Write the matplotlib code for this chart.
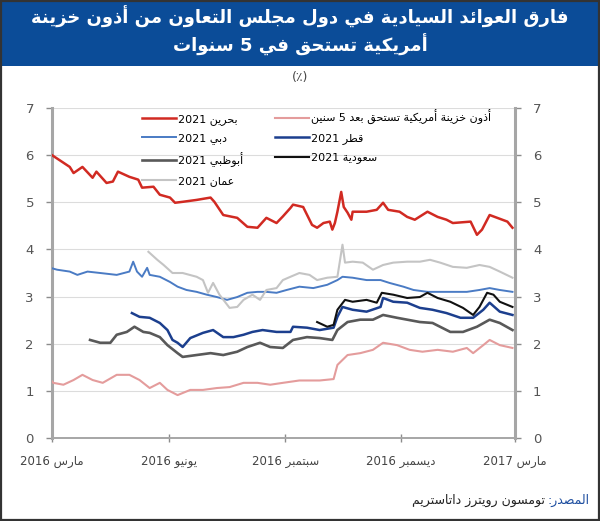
import re
import numpy as np
import pandas as pd
import matplotlib
matplotlib.use("Agg")
import matplotlib.pyplot as plt
from matplotlib.patches import Rectangle

START = pd.Timestamp("2016-03-01")

# day offsets from 1 March 2016 and yield values (%)
bahrain_days = [0, 14, 17, 24, 32, 35, 43, 48, 52, 61, 68, 71, 80, 85, 93, 97, 103, 114, 125, 128,
                135, 146, 154, 162, 169, 177, 182, 188, 190, 198, 205, 209, 214, 219, 221, 223, 225,
                228, 230, 233, 236, 237, 248, 256, 261, 265, 274, 280, 286, 296, 304, 311, 316, 330,
                335, 339, 345, 351, 359, 363]
bahrain_vals = [6.00, 5.75, 5.62, 5.75, 5.52, 5.65, 5.41, 5.44, 5.65, 5.54, 5.48, 5.31, 5.33, 5.16,
                5.10, 4.99, 5.01, 5.05, 5.10, 5.01, 4.73, 4.67, 4.48, 4.46, 4.67, 4.56, 4.70, 4.88,
                4.95, 4.90, 4.52, 4.46, 4.56, 4.59, 4.42, 4.56, 4.80, 5.22, 4.90, 4.78, 4.63, 4.80,
                4.80, 4.84, 4.99, 4.84, 4.80, 4.69, 4.63, 4.80, 4.69, 4.63, 4.56, 4.59, 4.31, 4.42,
                4.73, 4.67, 4.59, 4.46]

dubai_days = [0, 4, 14, 20, 28, 38, 51, 61, 64, 67, 71, 75, 77, 85, 93, 99, 106, 114, 122, 130, 138,
              146, 154, 162, 169, 177, 185, 195, 206, 217, 225, 229, 237, 248, 259, 266, 277, 285,
              296, 306, 316, 327, 337, 345, 353, 363]
dubai_vals = [3.60, 3.57, 3.53, 3.46, 3.53, 3.50, 3.46, 3.53, 3.74, 3.53, 3.42, 3.61, 3.46, 3.42,
              3.31, 3.21, 3.14, 3.10, 3.04, 2.99, 2.93, 2.99, 3.08, 3.10, 3.10, 3.08, 3.14, 3.21,
              3.18, 3.25, 3.35, 3.42, 3.40, 3.35, 3.35, 3.29, 3.21, 3.14, 3.10, 3.10, 3.10, 3.10,
              3.14, 3.18, 3.14, 3.10]

oman_days = [76, 83, 88, 95, 103, 114, 119, 123, 127, 132, 140, 146, 151, 158, 164, 169, 177, 182,
             188, 195, 203, 209, 217, 225, 229, 231, 237, 245, 253, 261, 269, 280, 290, 298, 306,
             316, 327, 337, 345, 353, 363]
oman_vals = [3.95, 3.78, 3.67, 3.50, 3.50, 3.42, 3.35, 3.08, 3.29, 3.04, 2.76, 2.78, 2.93, 3.04,
             2.93, 3.14, 3.18, 3.35, 3.42, 3.50, 3.46, 3.35, 3.40, 3.42, 4.10, 3.72, 3.74, 3.72,
             3.57, 3.67, 3.72, 3.74, 3.74, 3.78, 3.72, 3.63, 3.61, 3.67, 3.63, 3.53, 3.40]

qatar_days = [63, 69, 77, 85, 91, 95, 99, 103, 109, 119, 127, 135, 143, 151, 158, 166, 177, 188,
              190, 201, 211, 222, 225, 229, 237, 248, 259, 261, 269, 280, 290, 300, 311, 322, 332,
              340, 345, 353, 363]
qatar_vals = [2.65, 2.57, 2.55, 2.44, 2.29, 2.08, 2.02, 1.93, 2.12, 2.23, 2.29, 2.14, 2.14, 2.19,
              2.25, 2.29, 2.25, 2.25, 2.36, 2.34, 2.29, 2.34, 2.57, 2.78, 2.72, 2.68, 2.78, 2.97,
              2.89, 2.87, 2.76, 2.72, 2.65, 2.55, 2.55, 2.72, 2.87, 2.68, 2.61]

abudhabi_days = [30, 38, 46, 51, 59, 65, 72, 77, 85, 91, 99, 103, 114, 125, 135, 146, 154, 164, 172,
                 182, 190, 201, 211, 221, 225, 233, 243, 253, 261, 272, 280, 290, 300, 314, 324,
                 335, 345, 353, 363]
abudhabi_vals = [2.08, 2.02, 2.02, 2.19, 2.25, 2.36, 2.25, 2.23, 2.14, 1.97, 1.80, 1.72, 1.76, 1.80,
                 1.76, 1.83, 1.93, 2.02, 1.93, 1.91, 2.08, 2.14, 2.12, 2.08, 2.29, 2.46, 2.51, 2.51,
                 2.61, 2.55, 2.51, 2.46, 2.44, 2.25, 2.25, 2.36, 2.51, 2.44, 2.29]

saudi_days = [209, 217, 222, 225, 231, 237, 248, 256, 260, 269, 280, 290, 296, 304, 314, 324, 332,
              337, 343, 348, 353, 363]
saudi_vals = [2.46, 2.36, 2.40, 2.72, 2.93, 2.89, 2.93, 2.87, 3.08, 3.04, 2.97, 2.99, 3.08, 2.97,
              2.89, 2.76, 2.61, 2.78, 3.08, 3.04, 2.89, 2.78]

ust_days = [0, 1, 9, 17, 24, 32, 40, 51, 61, 69, 77, 85, 91, 99, 109, 119, 130, 140, 151, 162, 172,
            182, 195, 211, 222, 225, 233, 243, 253, 261, 272, 282, 292, 304, 316, 327, 332, 340,
            345, 353, 363]
ust_vals = [1.20, 1.17, 1.13, 1.23, 1.34, 1.23, 1.17, 1.34, 1.34, 1.23, 1.06, 1.17, 1.02, 0.91,
            1.02, 1.02, 1.06, 1.08, 1.17, 1.17, 1.13, 1.17, 1.22, 1.22, 1.25, 1.55, 1.76, 1.80,
            1.87, 2.02, 1.97, 1.87, 1.83, 1.87, 1.83, 1.91, 1.80, 1.97, 2.08, 1.97, 1.91]

tick_dates = ["2016-03-01", "2016-06-01", "2016-09-01", "2016-12-01", "2017-03-01"]
tick_labels = ["مارس 2016", "يونيو 2016", "سبتمبر 2016", "ديسمبر 2016", "مارس 2017"]

title = "فارق العوائد السيادية في دول مجلس التعاون من أذون خزينة\nأمريكية تستحق في 5 سنوات"
unit = "(٪)"
source_lbl = "المصدر:"
source_txt = "تومسون رويترز داتاستريم"


# --- minimal Arabic shaping + visual ordering (no reshaper libs available) ---
_counts = [(0x621, 1), (0x622, 2), (0x623, 2), (0x624, 2), (0x625, 2), (0x626, 4), (0x627, 2),
           (0x628, 4), (0x629, 2), (0x62A, 4), (0x62B, 4), (0x62C, 4), (0x62D, 4), (0x62E, 4),
           (0x62F, 2), (0x630, 2), (0x631, 2), (0x632, 2), (0x633, 4), (0x634, 4), (0x635, 4),
           (0x636, 4), (0x637, 4), (0x638, 4), (0x639, 4), (0x63A, 4), (0x641, 4), (0x642, 4),
           (0x643, 4), (0x644, 4), (0x645, 4), (0x646, 4), (0x647, 4), (0x648, 2), (0x649, 2),
           (0x64A, 4)]
FORMS = {}
_s = 0xFE80
for cp, n in _counts:
    FORMS[chr(cp)] = (_s, n)
    _s += n
LAMALEF = {"\u0622": 0xFEF5, "\u0623": 0xFEF7, "\u0625": 0xFEF9, "\u0627": 0xFEFB}
MIRROR = {"(": ")", ")": "("}


def shape(line):
    out = []
    prev = None
    i = 0
    while i < len(line):
        c = line[i]
        nxt = line[i + 1] if i + 1 < len(line) else None
        if c not in FORMS:
            out.append(c)
            prev = None
            i += 1
            continue
        jp = prev in FORMS and FORMS[prev][1] == 4
        if c == "\u0644" and nxt in LAMALEF:
            out.append(chr(LAMALEF[nxt] + (1 if jp else 0)))
            prev = nxt
            i += 2
            continue
        start, n = FORMS[c]
        jn = n == 4 and nxt in FORMS and nxt != "\u0621"
        if n == 4:
            if jp and jn:
                out.append(chr(start + 3))
            elif jp:
                out.append(chr(start + 1))
            elif jn:
                out.append(chr(start + 2))
            else:
                out.append(chr(start))
        elif n == 2:
            out.append(chr(start + 1) if jp else chr(start))
        else:
            out.append(chr(start))
        prev = c
        i += 1
    shaped = "".join(out)
    segs = re.split(r"([0-9A-Za-z.,]+)", shaped)
    vis = []
    for seg in segs[::-1]:
        if re.fullmatch(r"[0-9A-Za-z.,]+", seg):
            vis.append(seg)
        else:
            vis.append("".join(MIRROR.get(ch, ch) for ch in seg[::-1]))
    return "".join(vis)


def ar(text):
    return "\n".join(shape(l) for l in text.split("\n"))


def to_dates(days):
    return START + pd.to_timedelta(days, unit="D")


plt.rcParams["font.family"] = ["DejaVu Sans"]

fig = plt.figure(figsize=(6, 5.21), dpi=100)
fig.patch.set_facecolor("white")

# header band
fig.patches.append(Rectangle((0, 1 - 66 / 521), 1, 66 / 521, transform=fig.transFigure,
                             facecolor="#0b4c98", edgecolor="none", zorder=0))
fig.text(0.5, 1 - 31 / 521, ar(title), color="white", fontsize=13, fontweight="bold",
         ha="center", va="center", linespacing=1.35)
fig.text(0.5, 1 - 78 / 521, ar(unit), color="#444444", fontsize=9, ha="center", va="center",
         family=["DejaVu Sans", "Noto Sans", "Liberation Sans"])
# outer frame
fig.patches.append(Rectangle((0.002, 0.002), 0.996, 0.996, transform=fig.transFigure,
                             facecolor="none", edgecolor="#333333", lw=1.6, zorder=10))

ax = fig.add_axes([52 / 600, 1 - 438 / 521, 463 / 600, 330 / 521])

series = [
    ("بحرين 2021", bahrain_days, bahrain_vals, "#d12a22", 1.8),
    ("دبي 2021", dubai_days, dubai_vals, "#4a7bc4", 1.4),
    ("أبوظبي 2021", abudhabi_days, abudhabi_vals, "#595959", 1.9),
    ("عمان 2021", oman_days, oman_vals, "#c4c4c4", 1.5),
    ("أذون خزينة أمريكية تستحق بعد 5 سنين", ust_days, ust_vals, "#e49c9c", 1.5),
    ("قطر 2021", qatar_days, qatar_vals, "#1c3f8e", 1.8),
    ("سعودية 2021", saudi_days, saudi_vals, "#111111", 1.5),
]
draw_order = [4, 3, 1, 2, 5, 6, 0]
lines = {}
for idx in draw_order:
    name, d, v, col, lw = series[idx]
    ln, = ax.plot(to_dates(d), v, color=col, lw=lw, label=ar(name), zorder=3 + idx * 0.1)
    lines[idx] = ln

ax.set_ylim(0, 7)
ax.set_yticks(range(0, 8))
ax.set_xlim(START, START + pd.Timedelta(days=365))
ax.set_xticks(pd.to_datetime(tick_dates))
ax.set_xticklabels([ar(t) for t in tick_labels])

ax.grid(axis="y", color="#dcdcdc", lw=0.8, zorder=0)
ax.grid(axis="x", visible=False)
for s in ["left", "right"]:
    ax.spines[s].set_color("#a6a6a6")
    ax.spines[s].set_linewidth(2.2)
ax.spines["bottom"].set_color("#a6a6a6")
ax.spines["bottom"].set_linewidth(1.4)
ax.spines["top"].set_visible(False)

ax.tick_params(axis="y", direction="out", length=4, width=1, color="#8c8c8c", left=True,
               right=True, labelleft=True, labelright=True, labelsize=9.5,
               labelcolor="#555555", pad=9)
ax.tick_params(axis="x", direction="inout", length=6, width=1, color="#8c8c8c",
               labelsize=8.5, labelcolor="#444444", pad=9)

handles = [lines[i] for i in range(7)]
ax.legend(handles=handles, labels=[h.get_label() for h in handles], ncol=2,
          loc="upper left", bbox_to_anchor=(0.195, 0.995), frameon=False, fontsize=8,
          handlelength=3.0, handletextpad=0.2, columnspacing=2.9, labelspacing=0.75,
          borderpad=0, borderaxespad=0)

# source line (blue label + black text, right to left)
t1 = fig.text(0.983, 1 - 500 / 521, ar(source_lbl), color="#1f4fa0", fontsize=9,
              ha="right", va="center")
fig.canvas.draw()
bb = t1.get_window_extent(renderer=fig.canvas.get_renderer())
fig.text(bb.x0 / fig.bbox.width - 0.004, 1 - 500 / 521, ar(source_txt), color="#222222",
         fontsize=9, ha="right", va="center")

fig.savefig("out.png", dpi=100)
